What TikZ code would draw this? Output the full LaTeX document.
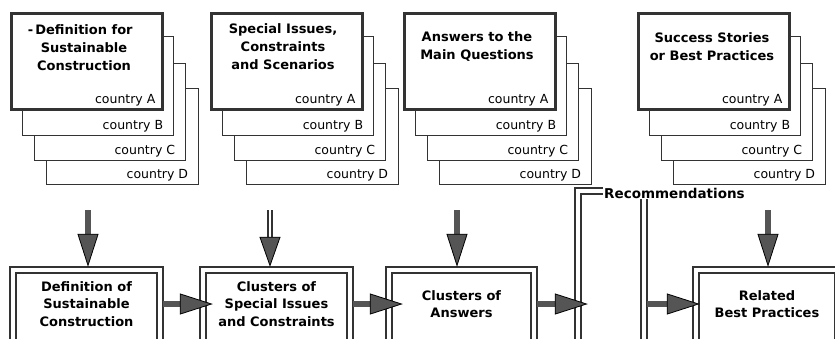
\documentclass[tikz,border=0pt]{standalone}
\usepackage{fontspec}
\setmainfont{DejaVu Sans}
\usetikzlibrary{arrows.meta}
\definecolor{ink}{HTML}{333333}
\definecolor{arrowfill}{HTML}{555555}
\tikzset{
  cardA/.style={draw=ink, line width=2.6pt, fill=white, anchor=north west, inner sep=0pt, minimum width=151pt, minimum height=96pt},
  card/.style={draw=ink, line width=1.3pt, fill=white, anchor=north west, inner sep=0pt},
  ctext/.style={font=\fontsize{12.5}{14}\selectfont, anchor=south east, inner sep=0pt},
  ttext/.style={font=\fontsize{13}{18}\selectfont\bfseries, align=center, inner sep=0pt},
  bbox/.style={font=\fontsize{13}{17.5}\selectfont\bfseries, align=center, inner sep=0pt, minimum height=68pt},
  dbl/.style={draw=ink, line width=2pt, double=white, double distance=3.5pt},
  rtext/.style={font=\fontsize{13.5}{16}\selectfont\bfseries, fill=white, inner sep=1pt, anchor=west},
  harrow/.style={draw=arrowfill, line width=6pt, shorten <=3pt,
    -{Triangle[length=33pt,width=21pt,line width=0.8pt,color=black,fill=arrowfill]}},
  varrow/.style={draw=arrowfill, line width=6pt, shorten >=3pt,
    -{Triangle[length=33pt,width=21pt,line width=0.8pt,color=black,fill=arrowfill]}},
  headonly/.style={draw=arrowfill, line width=0.8pt, shorten >=3pt,
    -{Triangle[length=30pt,width=21pt,line width=0.8pt,color=black,fill=arrowfill]}},
  dshaft/.style={draw=ink, line width=1.4pt, double=white, double distance=2.6pt},
}
\begin{document}
\begin{tikzpicture}[x=1pt,y=-1pt]
\useasboundingbox (0,0) rectangle (835,338);
\fill[white] (0,0) rectangle (835,338);
\clip (0,0) rectangle (835,338);

% stacks of country cards
\foreach \x [count=\i] in {10,210,403,637} {
  \node[card, minimum width=152pt, minimum height=96pt] (D\i) at (\x+36,88) {};
  \node[ctext] (cD\i) at ([shift={(-11pt,4pt)}]D\i.south east) {country D};
  \node[card, minimum width=151pt, minimum height=97pt] (C\i) at (\x+24,63) {};
  \node[ctext] (cC\i) at ([shift={(-11pt,4pt)}]C\i.south east) {country C};
  \node[card, minimum width=151pt, minimum height=99pt] (B\i) at (\x+12,36) {};
  \node[ctext] (cB\i) at ([shift={(-11pt,4pt)}]B\i.south east) {country B};
  \node[cardA] (A\i) at (\x,12) {};
  \node[ctext] (cA\i) at ([shift={(-8pt,4pt)}]A\i.south east) {country A};
}

\node[ttext] (t1) at (84,48) {\llap{-\,}Definition for\\Sustainable\\Construction};
\node[ttext] (t2) at (283,47) {Special Issues,\\Constraints\\and Scenarios};
\node[ttext] (t3) at (477,47) {Answers to the\\Main Questions};
\node[ttext] (t4) at (712,47) {Success Stories\\or Best Practices};

% bottom boxes
\node[bbox, minimum width=147pt] (b1) at (86.5,304) {Definition of\\Sustainable\\Construction};
\node[bbox, minimum width=147pt] (b2) at (276.5,304) {Clusters of\\Special Issues\\and Constraints};
\node[bbox, minimum width=145pt] (b3) at (461.5,304) {Clusters of\\Answers};
\node[bbox, minimum width=66pt, minimum height=226pt] (rec) at (611,304) {};
\node[bbox, minimum width=142pt] (b5) at (767,304) {Related\\Best Practices};

\foreach \n in {b1,b2,b3,rec,b5} {
  \draw[dbl] ([yshift=-40pt]\n.south west) -- (\n.north west) -- (\n.north east) -- ([yshift=-40pt]\n.south east);
}
\node[rtext] (rect) at (603,193) {Recommendations};

% vertical arrows
\coordinate (s1) at (88,210);
\coordinate (s2) at (270,210);
\coordinate (s3) at (457,210);
\coordinate (s5) at (768,210);
\draw[varrow] (s1) -- (s1 |- b1.north);
\draw[dshaft] (s2) -- ([yshift=-28pt]s2);
\draw[headonly] ([yshift=-27pt]s2) -- (s2 |- b2.north);
\draw[varrow] (s3) -- (s3 |- b3.north);
\draw[varrow] (s5) -- (s5 |- b5.north);

% horizontal arrows
\draw[harrow] (b1.east) -- ([xshift=10pt]b2.west);
\draw[harrow] (b2.east) -- ([xshift=14pt]b3.west);
\draw[harrow] (b3.east) -- ([xshift=10pt]rec.west);
\draw[harrow] (rec.east) -- ([xshift=4pt]b5.west);
\end{tikzpicture}
\end{document}
